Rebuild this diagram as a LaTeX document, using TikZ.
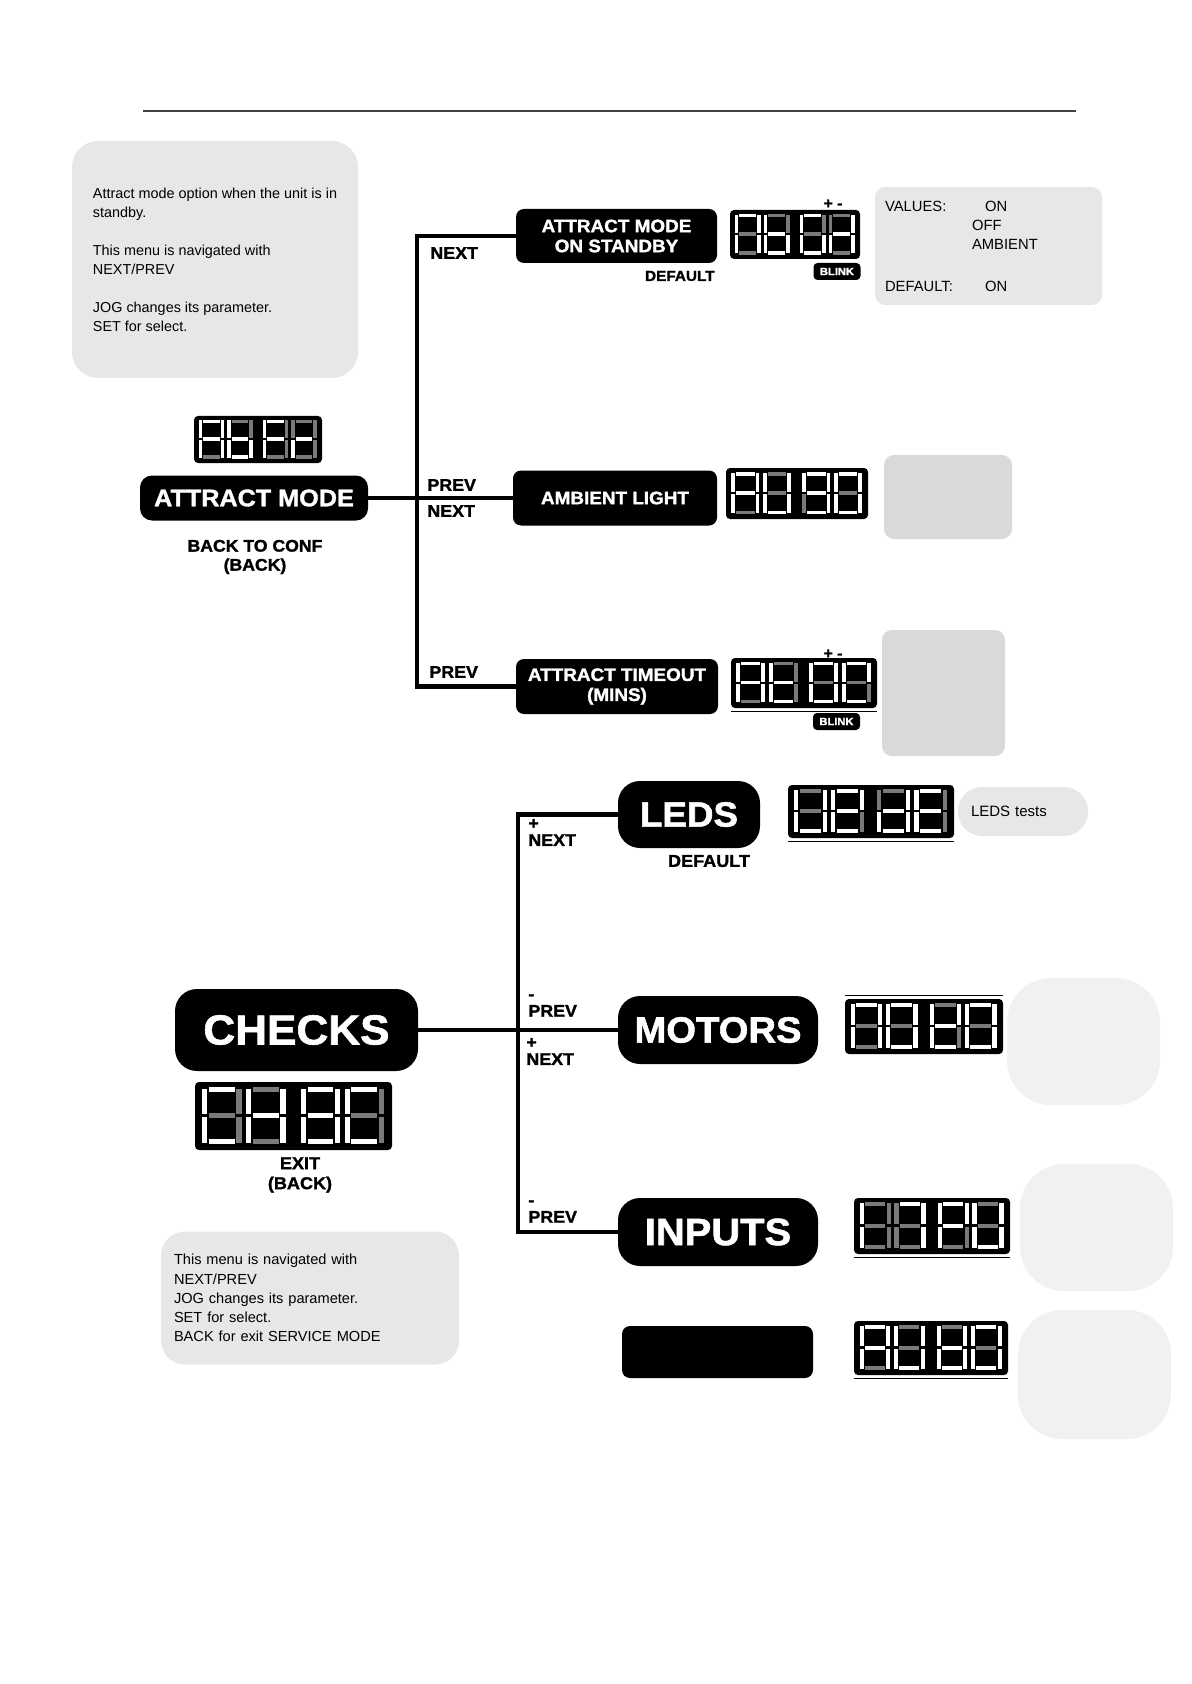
\documentclass[tikz,border=0pt]{standalone}
\usepackage{fontspec}
\setmainfont{Liberation Sans}[BoldFeatures={FakeBold=1.5,FakeStretch=1.05}]
\usepackage{tikz}
\usetikzlibrary{positioning}
\definecolor{notegrey}{HTML}{E7E7E7}
\definecolor{boxgrey}{HTML}{D9D9D9}
\definecolor{palegrey}{HTML}{F1F1F1}
\definecolor{segoff}{HTML}{7A7A7A}
\colorlet{segw}{white}
\colorlet{segg}{segoff}
\newlength\pxu
\setlength\pxu{0.5pt}
\newcommand\segdigit[2]{\segdigitA{#1}#2}
\def\segdigitA#1#2#3#4#5#6#7#8{%
  \fill[seg#2] (#1+4.5,4) rectangle (#1+21.5,7.5);
  \fill[seg#3] (#1+22.5,5) rectangle (#1+26,23);
  \fill[seg#4] (#1+22.5,25) rectangle (#1+26,43);
  \fill[seg#5] (#1+4.5,40.5) rectangle (#1+21.5,44);
  \fill[seg#6] (#1,25) rectangle (#1+3.5,43);
  \fill[seg#7] (#1,5) rectangle (#1+3.5,23);
  \fill[seg#8] (#1+4.5,22.25) rectangle (#1+21.5,25.75);}
\newcommand\segdisplay[8]{%
  \node[display, minimum width=#3\pxu, minimum height=#4\pxu] (#1) at #2 {};
  \begin{scope}[shift={(#1.north west)}, xscale=#3/130, yscale=#4/48]
    \segdigit{5}{#5}\segdigit{34}{#6}\segdigit{70}{#7}\segdigit{99}{#8}
  \end{scope}}

\begin{document}
\begin{tikzpicture}[x=0.5pt, y=-0.5pt,
  menubox/.style={fill=black, text=white, rounded corners=4pt, align=center, inner sep=0pt,
                  font=\bfseries\fontsize{9}{10}\selectfont},
  bigbox/.style={menubox, rounded corners=11pt},
  display/.style={fill=black, rounded corners=2pt, inner sep=0pt},
  blinktag/.style={fill=black, text=white, rounded corners=2pt, inner sep=0pt,
                   minimum width=23.5pt, minimum height=8.5pt, font=\bfseries\fontsize{5.3}{6}\selectfont},
  lbl/.style={inner sep=0pt, align=left, font=\bfseries\fontsize{8.5}{8.5}\selectfont},
  notebox/.style={fill=notegrey, rounded corners=13pt, inner sep=0pt, align=left,
                  font=\fontsize{7.2}{9.5}\selectfont},
  greyslot/.style={fill=boxgrey, rounded corners=5pt, inner sep=0pt},
  paleslot/.style={fill=palegrey, rounded corners=22pt, inner sep=0pt},
  link/.style={line width=2.2pt}
]
  \useasboundingbox (0,0) rectangle (1191,1684);
  \draw[black!75, line width=0.6pt] (143,111) -- (1076,111);

  % attract mode menu
  \node[notebox, minimum width=286\pxu, minimum height=237\pxu] (note1) at (215,259.5)
    {Attract mode option when the unit is in\\standby.\\[9.5pt]This menu is navigated with\\NEXT/PREV\\[9.5pt]JOG changes its parameter.\\SET for select.};
  \segdisplay{amdisp}{(258,439.5)}{128}{47}{wwwgwww}{ggwwwww}{wgggwww}{ggggwgw}
  \node[menubox, minimum width=228\pxu, minimum height=45\pxu, rounded corners=6pt,
        font=\bfseries\fontsize{12}{12}\selectfont] (attract) at (254,498) {ATTRACT MODE};
  \node[lbl, align=center, font=\bfseries\fontsize{8.4}{9.5}\selectfont] (backconf) at (255,557) {BACK TO CONF\\(BACK)};

  \node[menubox, minimum width=201\pxu, minimum height=54\pxu] (standby) at (616.5,236) {ATTRACT MODE\\ON STANDBY};
  \node[menubox, minimum width=204\pxu, minimum height=55\pxu] (ambient) at (615,498) {AMBIENT LIGHT};
  \node[menubox, minimum width=202\pxu, minimum height=55\pxu] (timeout) at (617,686.5) {ATTRACT TIMEOUT\\(MINS)};
  \coordinate (forkA) at (417,498);
  \draw[link] (standby.west) -| (forkA) |- (timeout.west);
  \draw[link] (attract) -- (ambient);

  \node[lbl, anchor=west] (nextA) at (430,253) {NEXT};
  \node[lbl, anchor=west] (prevA) at (427,485) {PREV};
  \node[lbl, anchor=west] (nextB) at (427,511) {NEXT};
  \node[lbl, anchor=west] (prevB) at (429,672) {PREV};
  \node[lbl, anchor=east, font=\bfseries\fontsize{7.3}{8}\selectfont] (defA) at (715,276) {DEFAULT};

  \segdisplay{standbydisp}{(795,234.5)}{130}{49}{wwwgwwg}{ggwwwww}{wgwwwwg}{gwwgwgw}
  \node[lbl, font=\bfseries\fontsize{7.5}{8}\selectfont] (pmA) at (833,204) {+ -};
  \node[blinktag] (blinkA) at (837,271.5) {BLINK};
  \node[notebox, rounded corners=5pt, minimum width=227\pxu, minimum height=118\pxu, text width=207\pxu,
        font=\fontsize{7.4}{9.5}\selectfont] (values) at (988.5,246)
    {\makebox[43.5pt][l]{VALUES:}\hspace{6.5pt}ON\\\makebox[43.5pt]{}OFF\\\makebox[43.5pt]{}AMBIENT\\[11.5pt]\makebox[43.5pt][l]{DEFAULT:}\hspace{6.5pt}ON};

  \segdisplay{ambientdisp}{(797,493.5)}{142}{51}{wwwgwww}{gwwwwwg}{wwwwgww}{wwwwwwg}
  \node[greyslot, minimum width=128\pxu, minimum height=84\pxu] (ambientnote) at (948,497) {};

  \segdisplay{timeoutdisp}{(804,683)}{146}{50}{wwwgwww}{gggwwww}{wwwwwwg}{wwgwwwg}
  \draw[line width=0.7pt] ([yshift=-1.5pt]timeoutdisp.south west) -- ([yshift=-1.5pt]timeoutdisp.south east);
  \node[lbl, font=\bfseries\fontsize{7.5}{8}\selectfont] (pmB) at (833,654) {+ -};
  \node[blinktag] (blinkB) at (836.5,721.5) {BLINK};
  \node[greyslot, minimum width=123\pxu, minimum height=126\pxu] (timeoutnote) at (943.5,693) {};

  % checks menu
  \node[bigbox, minimum width=142\pxu, minimum height=67\pxu, font=\bfseries\fontsize{17.5}{18}\selectfont] (leds) at (689,814.5) {LEDS};
  \node[bigbox, minimum width=243\pxu, minimum height=82\pxu, font=\bfseries\fontsize{21}{22}\selectfont] (checks) at (296.5,1030) {CHECKS};
  \node[bigbox, minimum width=200\pxu, minimum height=68\pxu, font=\bfseries\fontsize{18.2}{19}\selectfont] (motors) at (718,1030) {MOTORS};
  \node[bigbox, minimum width=200\pxu, minimum height=68\pxu, font=\bfseries\fontsize{19}{19}\selectfont] (inputs) at (718,1232) {INPUTS};
  \node[menubox, minimum width=191\pxu, minimum height=52\pxu] (blankbox) at (717.5,1352) {};
  \coordinate (forkB) at (518,1030);
  \draw[link] (leds.west) -| (forkB) |- (inputs.west);
  \draw[link] (checks) -- (motors);

  \node[lbl, anchor=west] (nextC) at (528,832.5) {+\\NEXT};
  \node[lbl, anchor=west] (prevC) at (528,1005.5) {-\\PREV};
  \node[lbl, anchor=west] (nextD) at (526,1051.5) {+\\NEXT};
  \node[lbl, anchor=west] (prevD) at (528,1211.5) {-\\PREV};
  \node[lbl, font=\bfseries\fontsize{8.6}{9}\selectfont] (defB) at (709,861) {DEFAULT};
  \node[lbl, align=center, font=\bfseries\fontsize{8.6}{10}\selectfont] (exitlbl) at (300,1175) {EXIT\\(BACK)};

  \segdisplay{ledsdisp}{(871,811.5)}{166}{53}{gwwwwwg}{wwgwwww}{gwwwwgw}{wggwwww}
  \draw[line width=0.7pt] ([yshift=-1.5pt]ledsdisp.south west) -- ([yshift=-1.5pt]ledsdisp.south east);
  \node[notebox, minimum width=130\pxu, minimum height=49\pxu, text width=104\pxu, rounded corners=12pt,
        font=\fontsize{7.5}{9}\selectfont] (ledsnote) at (1023,811.5) {LEDS tests};

  \segdisplay{checksdisp}{(293.5,1116)}{197}{68}{wggwwwg}{gwwgwww}{wwwwwww}{wggwwwg}
  \segdisplay{motorsdisp}{(924,1026.5)}{158}{55}{wwwgwwg}{wwwwwwg}{gwgwwww}{wwwwwwg}
  \draw[line width=0.7pt] ([yshift=1.5pt]motorsdisp.north west) -- ([yshift=1.5pt]motorsdisp.north east);
  \segdisplay{inputsdisp}{(932,1226)}{156}{56}{ggggwwg}{wwwgggg}{wwggwww}{gwwwwwg}
  \draw[line width=0.7pt] ([yshift=-1.5pt]inputsdisp.south west) -- ([yshift=-1.5pt]inputsdisp.south east);
  \segdisplay{lastdisp}{(931,1348)}{154}{54}{wwwgwww}{gwwwwwg}{gwwwwww}{wwwwwwg}
  \draw[line width=0.7pt] ([yshift=-1.5pt]lastdisp.south west) -- ([yshift=-1.5pt]lastdisp.south east);

  \node[paleslot, minimum width=153\pxu, minimum height=127\pxu] (motorsnote) at (1083.5,1041.5) {};
  \node[paleslot, minimum width=153\pxu, minimum height=127\pxu] (inputsnote) at (1096.5,1227.5) {};
  \node[paleslot, minimum width=153\pxu, minimum height=129\pxu] (lastnote) at (1094.5,1374.5) {};

  \node[notebox, minimum width=298\pxu, minimum height=133\pxu, text width=272\pxu, rounded corners=12pt,
        font=\fontsize{7.3}{9.6}\selectfont] (note2) at (310,1298)
    {This menu is navigated with\\NEXT/PREV\\JOG changes its parameter.\\SET for select.\\BACK for exit SERVICE MODE};
\end{tikzpicture}
\end{document}
